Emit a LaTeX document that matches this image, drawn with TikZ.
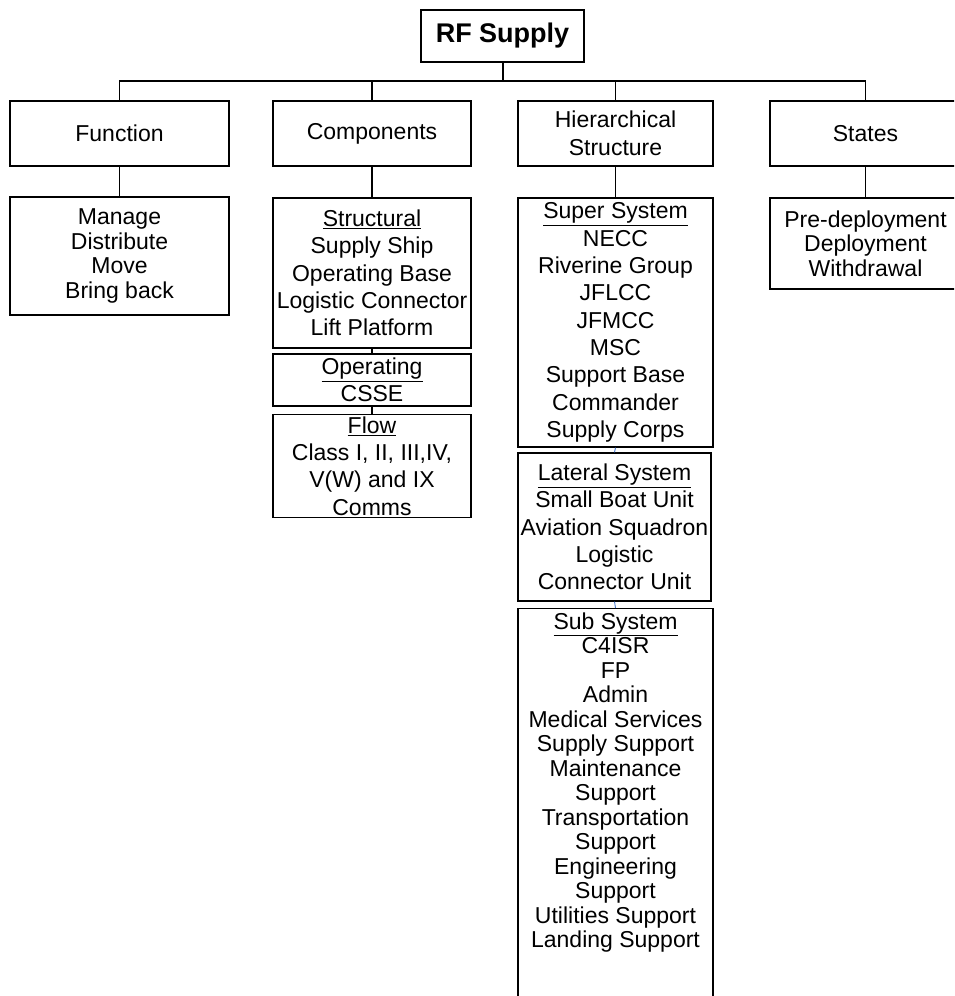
\documentclass[tikz,border=0pt]{standalone}
\usepackage{fontspec}
\setmainfont{Liberation Sans}
\usetikzlibrary{positioning}

\definecolor{linkblue}{RGB}{70,120,205}

\tikzset{
  box/.style={draw, line width=1.2pt, align=center, inner sep=2pt,
    font={\fontsize{23}{24.5}\selectfont}},
  widebox/.style={box, font={\fontsize{23}{27.3}\selectfont}},
  link/.style={line width=1.2pt},
  bluelink/.style={line width=0.9pt, draw=linkblue},
}

\begin{document}
\begin{tikzpicture}[x=1pt, y=-1pt]
  \useasboundingbox (0,0) rectangle (954,996);
  \clip (0,0) rectangle (954,996);

  \node [draw, line width=1.2pt, font={\bfseries\fontsize{27}{30}\selectfont},
    minimum width=163pt, minimum height=52pt] at (502.5,36) (rf) {RF Supply};
  \coordinate (bus) at (502.5,81);

  % first level
  \node [box, minimum width=219pt, minimum height=65pt] at (119.5,133.5) (function) {Function};
  \node [box, minimum width=198pt, minimum height=65pt] at (372,133.5) (components) {Components};
  \node [box, font={\fontsize{23}{28.5}\selectfont}, minimum width=195pt, minimum height=65pt]
    at (615.5,133.5) (hier) {Hierarchical\\Structure};
  \node [box, minimum width=191pt, minimum height=65pt] at (865.5,133.5) (states) {States};

  % second level
  \node [box, minimum width=219pt, minimum height=118pt] at (119.5,256) (tasks)
    {Manage\\Distribute\\Move\\Bring back};

  \node [widebox, minimum width=198pt, minimum height=150pt] at (372,273) (structural)
    {\underline{Structural}\\Supply Ship\\Operating Base\\Logistic Connector\\Lift Platform};
  \node [widebox, minimum width=198pt, minimum height=52pt] at (372,380) (operating)
    {\underline{Operating}\\CSSE};
  \node [widebox, minimum width=198pt, minimum height=102pt] at (372,466) (flow)
    {\underline{Flow}\\Class I, II, III,IV,\\V(W) and IX\\Comms};

  \node [widebox, minimum width=195pt, minimum height=249pt] at (615.5,322.5) (super)
    {\underline{Super System}\\NECC\\Riverine Group\\JFLCC\\JFMCC\\MSC\\Support Base\\Commander\\Supply Corps};
  \node [widebox, minimum width=193pt, minimum height=148pt] at (614.5,527) (lateral)
    {\underline{Lateral System}\\Small Boat Unit\\Aviation Squadron\\Logistic\\Connector Unit};
  \node [draw, line width=1.2pt, anchor=north, minimum width=195pt, minimum height=420pt]
    at (615.5,608) (sub) {};
  \node [box, draw=none, anchor=north] at ([yshift=-2pt]sub.north) (subtext)
    {\underline{Sub System}\\C4ISR\\FP\\Admin\\Medical Services\\Supply Support\\Maintenance\\Support\\Transportation\\Support\\Engineering\\Support\\Utilities Support\\Landing Support};

  \node [box, minimum width=191pt, minimum height=91pt] at (865.5,243.5) (phases)
    {Pre-deployment\\Deployment\\Withdrawal};

  % connectors
  \draw [line width=2pt] (rf.south) -- (bus);
  \draw [link] (bus) -| (function.north);
  \draw [link] (bus) -| (components.north);
  \draw [link] (bus) -| (hier.north);
  \draw [link] (bus) -| (states.north);

  \draw [link] (function) -- (tasks);
  \draw [link] (components) -- (structural);
  \draw [link] (structural) -- (operating);
  \draw [link] (operating) -- (flow);
  \draw [link] (hier) -- (super);
  \draw [link] (states) -- (phases);

  \draw [bluelink] (super.south) to [out=-60, in=120] (lateral.north);
  \draw [bluelink] (lateral.south) to [out=-60, in=120] (sub.north);

\end{tikzpicture}
\end{document}
